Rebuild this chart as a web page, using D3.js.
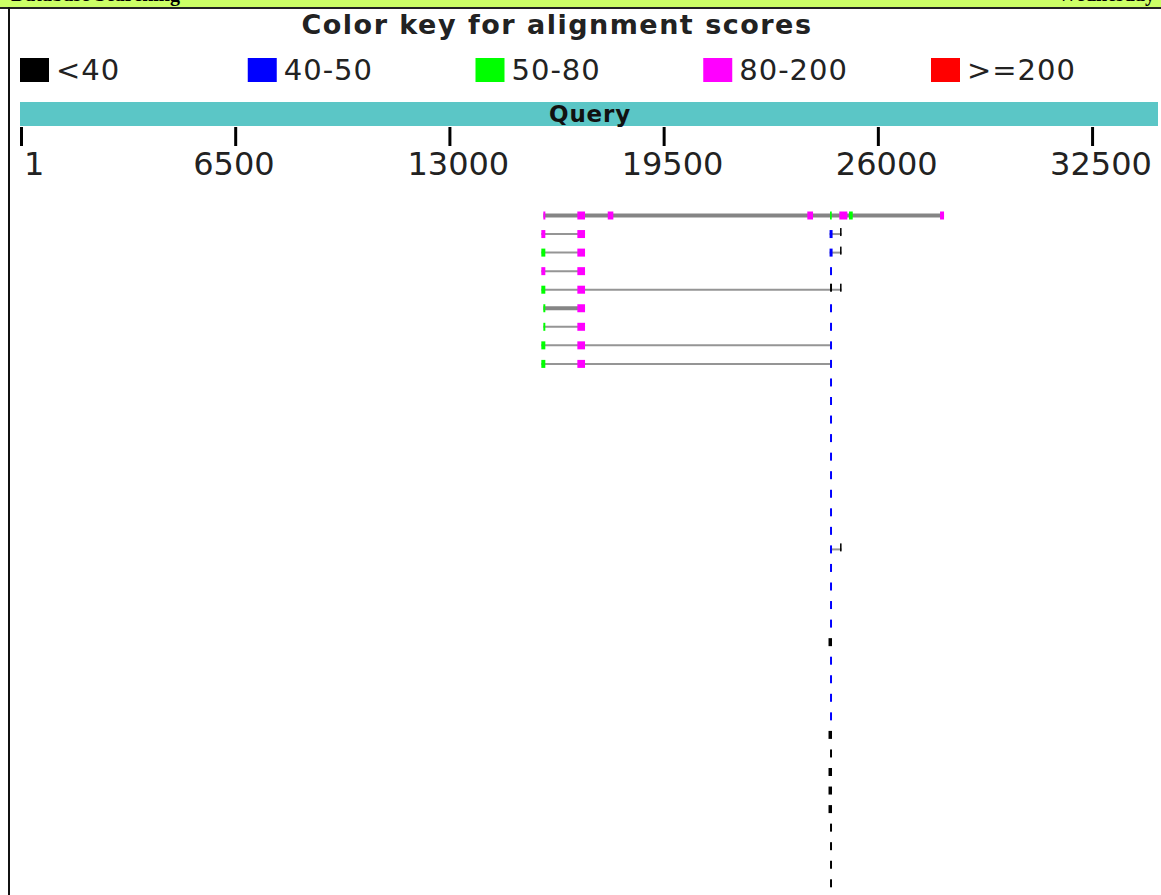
<!DOCTYPE html>
<html>
<head>
<meta charset="utf-8">
<script src="https://cdn.jsdelivr.net/npm/d3@7"></script>
<style>
  body { margin: 0; background: #fff; overflow: hidden; }
  svg { display: block; }
</style>
</head>
<body>
<script>
// query + axis
const queryLength = 34470;
const tickValues = [1, 6500, 13000, 19500, 26000, 32500];

// colour key
const scoreBins = ["<40", "40-50", "50-80", "80-200", ">=200"];
const binColors = ["#000000", "#0000ff", "#00ff00", "#ff00ff", "#ff0000"];

// hits: each row = list of linked HSP groups, each HSP = [start, end, bin]
const hitRows = [
  [[[15850, 15911, 3], [16882, 17115, 3], [17804, 17974, 3], [23860, 24033, 3], [24549, 24601, 2], [24831, 25074, 3], [25126, 25238, 2], [27887, 28008, 3]]],
  [[[15789, 15910, 3], [16882, 17115, 3]], [[24535, 24626, 1], [24853, 24899, 0]]],
  [[[15789, 15910, 2], [16882, 17115, 3]], [[24535, 24626, 1], [24853, 24899, 0]]],
  [[[15789, 15910, 3], [16882, 17115, 3]], [[24549, 24609, 1]]],
  [[[15789, 15910, 2], [16882, 17115, 3], [24549, 24609, 0], [24853, 24899, 0]]],
  [[[15850, 15910, 2], [16882, 17115, 3]], [[24549, 24609, 1]]],
  [[[15850, 15910, 2], [16882, 17115, 3]], [[24549, 24609, 1]]],
  [[[15789, 15910, 2], [16882, 17115, 3], [24549, 24609, 1]]],
  [[[15789, 15910, 2], [16882, 17115, 3], [24549, 24609, 1]]]
];
// rows that stack several alignments on one link (drawn heavier)
const heavyRows = [0, 5];

// single short hits further down, rows 9..36 (bin per row)
const tailBins = [1, 1, 1, 1, 1, 1, 1, 1, 1, 1, 1, 1, 1, 1, 0, 1, 1, 1, 1, 0, 0, 0, 0, 0, 0, 0, 0, 0];
const tailWide = [23, 28, 30, 31, 32];   // slightly longer hits
const tailPairs = [18];                  // with a second weak hit

const firstTail = hitRows.length;
tailBins.forEach((b, j) => {
  let i = j + firstTail;
  let start = tailWide.includes(i) ? 24503 : 24549;
  let grp = [[start, 24609, b]];
  if (tailPairs.includes(i)) grp.push([24853, 24899, 0]);
  hitRows.push([grp]);
});

const W = 1161, H = 895;

const svg = d3.select("body").append("svg")
    .attr("width", W)
    .attr("height", H)
    .style("font-family", "Verdana, 'DejaVu Sans', sans-serif");

// page header strip (cut off at the top, as in the page)
svg.append("rect").attr("x", 0).attr("y", 0).attr("width", W).attr("height", 7).attr("fill", "#ccff66");
svg.append("text").attr("x", 180).attr("y", 1).attr("text-anchor", "end")
    .style("font-family", "'Liberation Serif', serif").style("font-weight", "bold").style("font-size", "20px")
    .text("Database Searching");
svg.append("text").attr("x", 1155).attr("y", 1).attr("text-anchor", "end")
    .style("font-family", "'Liberation Serif', serif").style("font-weight", "bold").style("font-size", "20px")
    .text("Wednesday");
svg.append("rect").attr("x", 0).attr("y", 7).attr("width", W).attr("height", 2).attr("fill", "#222");
svg.append("rect").attr("x", 8).attr("y", 7).attr("width", 2).attr("height", H).attr("fill", "#111");

// title + colour key
svg.append("text")
    .attr("x", 557).attr("y", 34)
    .attr("text-anchor", "middle")
    .style("font-weight", "bold").style("font-size", "27px").style("letter-spacing", "1.5px")
    .attr("fill", "#222")
    .text("Color key for alignment scores");

let keyX = d3.scalePoint().domain(scoreBins).range([20, 931]);

let key = svg.selectAll(".key").data(scoreBins).enter().append("g")
    .attr("transform", d => `translate(${keyX(d)}, 58)`);
key.append("rect").attr("width", 29).attr("height", 24).attr("fill", (d, i) => binColors[i]);
key.append("text").attr("x", 36).attr("y", 22)
    .style("font-size", "29px").style("letter-spacing", "1px").attr("fill", "#222")
    .text(d => d);

// query bar + axis
let x = d3.scaleLinear().domain([1, queryLength]).range([21, 1157]);

svg.append("rect").attr("x", 20).attr("y", 102).attr("width", 1138).attr("height", 24).attr("fill", "#5bc6c6");
svg.append("text").attr("x", 590).attr("y", 122).attr("text-anchor", "middle")
    .style("font-weight", "bold").style("font-size", "23px").style("letter-spacing", "0.8px")
    .attr("fill", "#111")
    .text("Query");

let axis = svg.append("g").attr("transform", "translate(0,127)");
axis.selectAll("line").data(tickValues).enter().append("line")
    .attr("x1", d => x(d) + 0.5).attr("x2", d => x(d) + 0.5)
    .attr("y1", 0).attr("y2", 19)
    .attr("stroke", "#000").attr("stroke-width", 3);
axis.selectAll("text").data(tickValues).enter().append("text")
    .attr("x", (d, i) => i === 0 ? x(d) + 3 : x(d) - 42)
    .attr("y", 48)
    .style("font-size", "32px").attr("fill", "#222")
    .text(d => d);

// hit rows
let y = d3.scaleLinear().domain([0, 1]).range([215.5, 234.05]);

let rowG = svg.selectAll(".row").data(hitRows).enter().append("g")
    .attr("class", "row")
    .attr("transform", (d, i) => `translate(0, ${y(i)})`);

rowG.each(function (groups, i) {
  let g = d3.select(this);
  groups.forEach(grp => {
    if (grp.length > 1) {
      g.append("line")
        .attr("x1", x(grp[0][0])).attr("x2", x(grp[grp.length - 1][1]))
        .attr("y1", 0).attr("y2", 0)
        .attr("stroke", heavyRows.includes(i) ? "#858585" : "#959595")
        .attr("stroke-width", heavyRows.includes(i) ? 4 : 2);
    }
    g.selectAll(null).data(grp).enter().append("rect")
      .attr("x", d => x(d[0]))
      .attr("width", d => Math.max(1.5, x(d[1]) - x(d[0])))
      .attr("y", d => d[2] === 0 && grp.length > 1 ? -6 : -4)
      .attr("height", 8)
      .attr("fill", d => binColors[d[2]]);
  });
});
</script>
</body>
</html>
